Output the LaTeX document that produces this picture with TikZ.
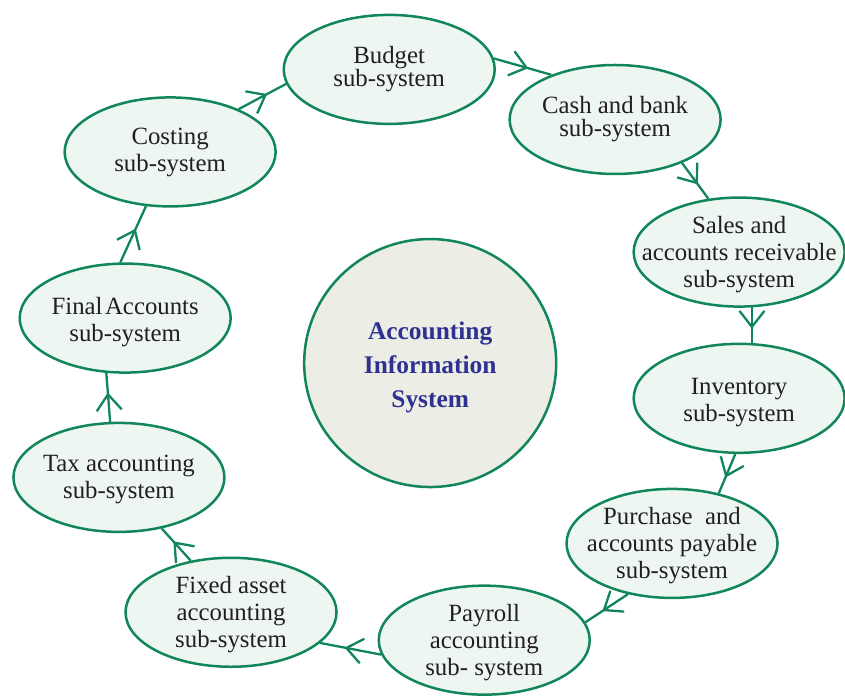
\documentclass[tikz,border=0pt]{standalone}
\usepackage{fontspec}
\setmainfont{Liberation Serif}
\usepackage{xcolor}
\definecolor{aisgreen}{RGB}{16,134,90}
\definecolor{aismint}{RGB}{237,246,240}
\definecolor{aiscore}{RGB}{236,237,229}
\definecolor{aisblue}{RGB}{46,49,146}
\definecolor{aistext}{RGB}{35,31,32}
\usetikzlibrary{arrows.meta, shapes.geometric, decorations.markings}

\begin{document}
\begin{tikzpicture}[
    subsys/.style={ellipse, draw=aisgreen, line width=1.25pt, fill=aismint,
      minimum width=105.5pt, minimum height=54.5pt, inner sep=0pt},
    core/.style={ellipse, draw=aisgreen, line width=1.25pt, fill=aiscore,
      minimum width=126pt, minimum height=124pt, inner sep=0pt},
    txt/.style={align=center, text=aistext, yshift=-1.2pt,
      font=\fontsize{12.4}{13.5}\selectfont},
    coretxt/.style={align=center, text=aisblue, yshift=-2pt,
      font=\fontsize{12.7}{17}\selectfont\bfseries},
    arrow/.style={draw=aisgreen, line width=1.15pt, postaction={decorate},
      decoration={markings, mark=at position 0.6 with
        {\arrow{Straight Barb[length=8pt, width=12.5pt, line width=1.15pt]}}}}
]
\useasboundingbox (0,0) rectangle (14.85,12.27);

% centre
\node[core, label={[coretxt]center:Accounting\\Information\\System}] (ais) at (7.56,5.89) {};

% sub-systems, clockwise from the top
\node[subsys, label={[txt, yshift=1.3pt]center:Budget\\[-2pt]sub-system}] (budget) at (6.84,11.05) {};
\node[subsys, label={[txt, yshift=1.3pt]center:Cash and bank\\[-2pt]sub-system}] (cash) at (10.81,10.17) {};
\node[subsys, label={[txt]center:Sales and\\accounts receivable\\sub-system}] (sales) at (12.99,7.84) {};
\node[subsys, label={[txt, yshift=-1pt]center:Inventory\\sub-system}] (inventory) at (12.99,5.27) {};
\node[subsys, label={[txt]center:Purchase\ \ and\\accounts payable\\sub-system}] (purchase) at (11.81,2.72) {};
\node[subsys, label={[txt]center:Payroll\\accounting\\sub- system}] (payroll) at (8.51,1.02) {};
\node[subsys, label={[txt]center:Fixed asset\\accounting\\sub-system}] (fixed) at (4.06,1.51) {};
\node[subsys, label={[txt]center:Tax accounting\\sub-system}] (tax) at (2.09,3.88) {};
\node[subsys, label={[txt, yshift=-1pt]center:Final\hspace{0.1em}Accounts\\sub-system}] (final) at (2.20,6.68) {};
\node[subsys, label={[txt, yshift=1pt]center:Costing\\sub-system}] (costing) at (2.99,9.60) {};

% flow between sub-systems
\draw[arrow] (costing.32) -- (budget.-172);
\draw[arrow] (budget.6) -- (cash.145);
\draw[arrow] (cash.-33) -- (sales.120);
\draw[arrow] (sales.-77) -- (inventory.77);
\draw[arrow] (inventory.-94) -- (purchase.47);
\draw[arrow] (purchase.-131) -- (payroll.10);
\draw[arrow] (payroll.-172) -- (fixed.-19);
\draw[arrow] (fixed.128) -- (tax.-50);
\draw[arrow] (tax.99) -- (final.-109);
\draw[arrow] (final.95) -- (costing.-114);
\end{tikzpicture}
\end{document}
